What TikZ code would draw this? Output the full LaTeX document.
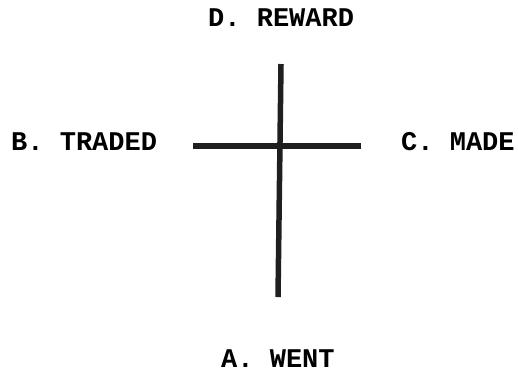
\documentclass[tikz,border=0pt]{standalone}
\usepackage{fontspec}
\setmonofont{Liberation Mono}
\begin{document}
\begin{tikzpicture}[x=1pt,y=-1pt,
  lbl/.style={inner sep=0pt,anchor=base west,font=\ttfamily\bfseries\fontsize{27}{30}\selectfont},
  bar/.style={line width=5.5pt,draw={black!88}}]
\useasboundingbox (0,0) rectangle (518,373);
\node[lbl] (d) at (208,26) {D. REWARD};
\node[lbl] (b) at (11,150) {B. TRADED};
\node[lbl] (c) at (401,150) {C. MADE};
\node[lbl] (a) at (221,367) {A. WENT};
\coordinate (top) at (281,64);
\coordinate (bot) at (278,297);
\coordinate (lft) at (193,146);
\coordinate (rgt) at (361,146);
\draw[bar] (top) -- (bot);
\draw[bar] (lft) -- (rgt);
\end{tikzpicture}
\end{document}
